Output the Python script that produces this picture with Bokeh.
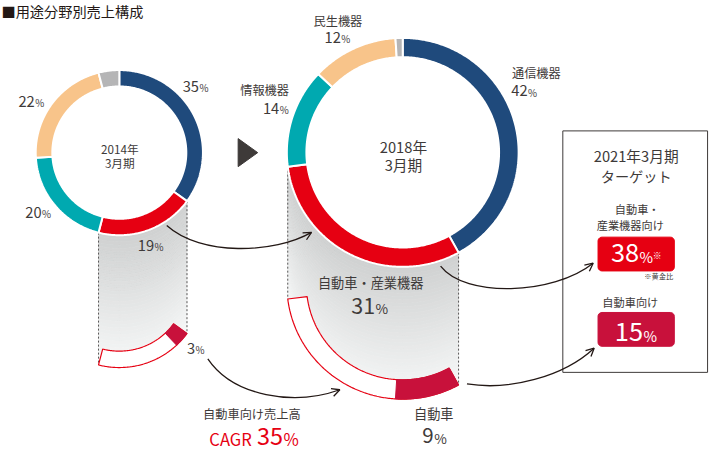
import numpy as np
from bokeh.plotting import figure
from bokeh.models import Range1d, Arrow, OpenHead
from bokeh.core.properties import value
from bokeh.embed import file_html
from bokeh.resources import INLINE

# ---------------- data ----------------
segments = ["通信機器", "自動車・産業機器", "情報機器", "民生機器", "その他"]
share_2014 = [35, 19, 20, 22, 4]
share_2018 = [42, 31, 14, 12, 1]
auto_share_2014 = 3
auto_share_2018 = 9
period_2014 = ["2014年", "3月期"]
period_2018 = ["2018年", "3月期"]
target_period = ["2021年3月期", "ターゲット"]
target_auto_industrial = 38
target_auto = 15
auto_cagr = 35
title_text = "■用途分野別売上構成"

# ---------------- style ----------------
seg_colors = ["#1f4a7c", "#e60012", "#00a9b0", "#f8c48a", "#b5b5b6"]
RED = "#e60012"
CRIMSON = "#c8113b"
TXT = "#3e3a39"
DARK = "#231815"
FONT = value("Noto Sans CJK JP")

W, H = 710, 453
FS = W / 726.0

p = figure(width=W, height=H, x_range=Range1d(0, 726), y_range=Range1d(469, 0),
           output_backend="svg", toolbar_location=None, min_border=0)
p.axis.visible = False
p.grid.visible = False
p.outline_line_color = None
p.background_fill_color = "white"
p.border_fill_color = "white"


def txt(x, y, s, size, color=TXT, align="center"):
    p.text(x=[x], y=[y], text=[s], text_font=FONT, text_font_size=f"{size * FS:.1f}px",
           text_color=color, text_align=align, text_baseline="middle")


def pct(x, base, num, size, psize, color=TXT):
    # number and a smaller "%" sharing one baseline
    txt(x, base - 0.37 * size, str(num), size, color, "right")
    txt(x + 0.5, base - 0.37 * psize, "%", psize, color, "left")


def ring_pts(cx, cy, r_in, r_out, a0, a1, dy=0.0):
    n = max(8, int(abs(a1 - a0) * 1.5))
    t = np.radians(np.linspace(a0, a1, n))
    xo = cx + r_out * np.sin(t)
    yo = cy + dy - r_out * np.cos(t)
    xi = cx + r_in * np.sin(t[::-1])
    yi = cy + dy - r_in * np.cos(t[::-1])
    return [float(v) for v in np.concatenate([xo, xi])], [float(v) for v in np.concatenate([yo, yi])]


def spans(shares):
    out, a = [], 0.0
    for s in shares:
        out.append((a, a + s * 3.6))
        a += s * 3.6
    return out


def donut(cx, cy, r_in, r_out, shares):
    xs, ys = [], []
    for a0, a1 in spans(shares):
        x, y = ring_pts(cx, cy, r_in, r_out, a0, a1)
        xs.append(x)
        ys.append(y)
    p.patches(xs, ys, fill_color=seg_colors, line_color="white", line_width=2)


def panel(cx, cy, r_in, r_out, a0, a1, drop, auto_share):
    n = 40
    t = np.radians(np.linspace(a0, a1, 140))
    ax = cx + r_out * np.sin(t)
    ay = cy - r_out * np.cos(t)
    c_top = np.array([0xcf, 0xd1, 0xd1])
    c_bot = np.array([0xf7, 0xf8, 0xf8])
    xs, ys, cs = [], [], []
    for i in range(n):
        d0, d1 = drop * i / n, drop * (i + 1) / n
        xs.append([float(v) for v in np.concatenate([ax, ax[::-1]])])
        ys.append([float(v) for v in np.concatenate([ay + d0, (ay + d1)[::-1]])])
        c = c_top + (c_bot - c_top) * ((i + 0.5) / n)
        cs.append("#%02x%02x%02x" % tuple(int(round(v)) for v in c))
    p.patches(xs, ys, fill_color=cs, line_color=cs, line_width=0.8)
    for ang in (a0, a1):
        x = float(cx + r_out * np.sin(np.radians(ang)))
        y = float(cy - r_out * np.cos(np.radians(ang)))
        p.line([x, x], [y, y + drop], line_color="#595757", line_dash="2 2", line_width=1)
    x, y = ring_pts(cx, cy, r_in, r_out, a0, a1, dy=drop)
    p.patch(x, y, fill_color="white", line_color=RED, line_width=1.2)
    x, y = ring_pts(cx, cy, r_in, r_out, a0, a0 + auto_share * 3.6, dy=drop)
    p.patch(x, y, fill_color=CRIMSON, line_color=CRIMSON, line_width=1)


def curved_arrow(P0, P1, P2, P3):
    p.bezier(x0=[P0[0]], y0=[P0[1]], x1=[P3[0]], y1=[P3[1]],
             cx0=[P1[0]], cy0=[P1[1]], cx1=[P2[0]], cy1=[P2[1]],
             line_color=DARK, line_width=1.3)
    d = np.array(P3, float) - np.array(P2, float)
    d = d / np.linalg.norm(d)
    s = np.array(P3, float) - d * 1.0
    p.add_layout(Arrow(end=OpenHead(size=8, line_color=DARK, line_width=1.3),
                       x_start=float(s[0]), y_start=float(s[1]),
                       x_end=float(P3[0]), y_end=float(P3[1]),
                       line_color=DARK, line_width=1.3))


def rrect(x0, y0, x1, y1, r, color):
    xs, ys = [], []
    for cx, cy, a_s in [(x1 - r, y0 + r, -90), (x1 - r, y1 - r, 0), (x0 + r, y1 - r, 90), (x0 + r, y0 + r, 180)]:
        for a in np.linspace(a_s, a_s + 90, 6):
            xs.append(float(cx + r * np.cos(np.radians(a))))
            ys.append(float(cy + r * np.sin(np.radians(a))))
    p.patch(xs, ys, fill_color=color, line_color=color)


# ---------------- layout ----------------
L = dict(cx=121.5, cy=157.5, r_in=68.5, r_out=85.5)
R = dict(cx=411.3, cy=157.2, r_in=98.5, r_out=118.5)
DROP = 137

l_red = spans(share_2014)[1]
r_red = spans(share_2018)[1]
panel(L["cx"], L["cy"], L["r_in"], L["r_out"], l_red[0], l_red[1], DROP, auto_share_2014)
panel(R["cx"], R["cy"], R["r_in"], R["r_out"], r_red[0], r_red[1], DROP, auto_share_2018)

donut(L["cx"], L["cy"], L["r_in"], L["r_out"], share_2014)
donut(R["cx"], R["cy"], R["r_in"], R["r_out"], share_2018)

# title
txt(1, 10.5, title_text, 14.5, DARK, "left")

# triangle
p.patch([243, 243, 263], [143, 172, 157.5], fill_color=TXT, line_color=TXT)

# left donut labels
txt(122, 153.5, period_2014[0], 12)
txt(122, 167.5, period_2014[1], 12)
pct(203, 94.5, share_2014[0], 15, 10)
pct(35, 110, share_2014[3], 15, 10)
pct(42, 225, share_2014[2], 15, 10)
pct(157, 259, share_2014[1], 15, 10)
pct(199, 366, auto_share_2014, 15, 10)

# right donut labels
txt(412, 151, period_2018[0], 15)
txt(412, 169.5, period_2018[1], 15)
txt(345, 21.5, segments[3], 12.5)
pct(348, 44, share_2018[3], 15, 10)
txt(295, 93, segments[2], 12.5, align="right")
pct(285, 117, share_2018[2], 15, 10)
txt(523, 75.5, segments[0], 12.5, align="left")
pct(539, 99, share_2018[0], 15, 10)
txt(378.5, 292, segments[1], 13.5)
pct(383, 324, share_2018[1], 22, 14)
txt(443, 428, "自動車", 13.5)
pct(443, 458, auto_share_2018, 21, 14)

# CAGR
txt(257, 428, "自動車向け売上高", 12.5)
txt(257, 460 - 0.37 * 17, "CAGR", 17, RED, "right")
pct(289, 460, auto_cagr, 24, 17, RED)

# target box
p.quad(left=[575], right=[723], top=[135], bottom=[385], fill_color=None,
       line_color=TXT, line_width=1)
txt(650, 160, target_period[0], 15)
txt(650, 182, target_period[1], 14.5)
txt(651, 216, "自動車・", 11.5)
txt(644, 232, "産業機器向け", 11.5)
rrect(611, 245, 689, 280, 4, RED)
pct(653, 271, target_auto_industrial, 26, 15, "white")
txt(667, 264, "※", 9, "white", "left")
txt(688, 285.5, "※黄金比", 7.5, TXT, "right")
txt(644, 312, "自動車向け", 11.5)
rrect(611, 323, 689, 358, 4, CRIMSON)
pct(657, 352, target_auto, 26, 15, "white")

# arrows
curved_arrow((170, 233), (205, 265), (280, 262), (318, 240))
curved_arrow((212, 371), (238, 410), (300, 420), (347, 403))
curved_arrow((450, 275), (475, 308), (565, 305), (606, 272))
curved_arrow((477, 397), (520, 404), (575, 390), (607, 360))

open("out.html", "w").write(file_html(p, INLINE))
